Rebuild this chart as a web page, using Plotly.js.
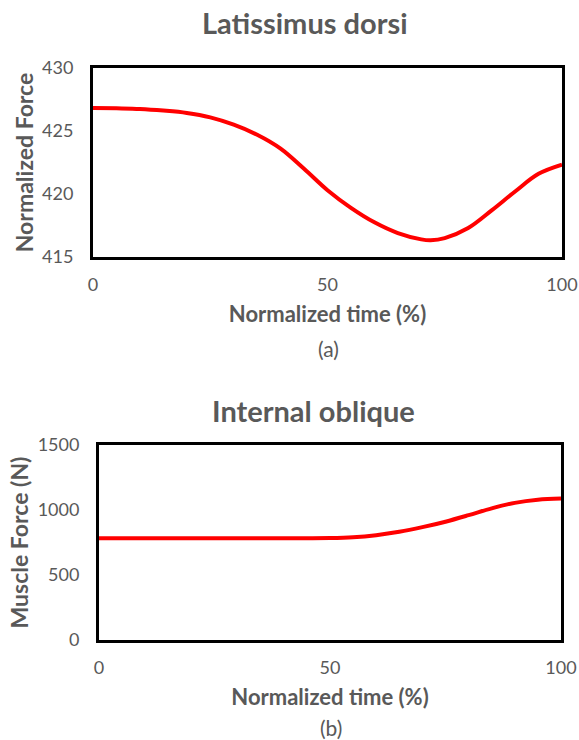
<!DOCTYPE html>
<html><head><meta charset="utf-8">
<script src="https://cdn.plot.ly/plotly-3.0.1.min.js"></script>
<style>html,body{margin:0;padding:0;background:#fff;}</style>
</head><body>
<div id="chart" style="width:579px;height:740px;"></div>
<script>
const timeA = [0, 5, 10, 15, 20, 25, 30, 35, 40, 45, 50, 55, 60, 65, 70, 72, 75, 80, 85, 90, 95, 100];
const latDorsi = [426.83, 426.8, 426.75, 426.62, 426.43, 426.08, 425.5, 424.7, 423.6, 422.0, 420.3, 418.9, 417.75, 416.9, 416.4, 416.33, 416.5, 417.3, 418.7, 420.2, 421.6, 422.33];
const timeB = [0, 10, 20, 30, 40, 50, 55, 60, 65, 70, 75, 80, 85, 90, 95, 100];
const intOblique = [783, 783, 783, 783, 783, 784, 790, 806, 832, 868, 910, 960, 1013, 1055, 1079, 1088];
const xTicks = [0, 50, 100];
const yTicksA = [415, 420, 425, 430];
const yTicksB = [0, 500, 1000, 1500];

const gray = '#595959';
const font = 'Lato, "Open Sans", sans-serif';

const traces = [
  {x: timeA, y: latDorsi, xaxis: 'x', yaxis: 'y', mode: 'lines', line: {color: '#ff0000', width: 4, shape: 'spline', smoothing: 1}, hoverinfo: 'skip'},
  {x: timeB, y: intOblique, xaxis: 'x2', yaxis: 'y2', mode: 'lines', line: {color: '#ff0000', width: 4, shape: 'spline', smoothing: 1}, hoverinfo: 'skip'}
];

function xax(domain, anchor) {
  return {domain: domain, anchor: anchor, range: [0, 100], tickvals: xTicks, showgrid: false, zeroline: false,
    showline: true, mirror: true, linecolor: '#000', linewidth: 3,
    ticks: 'outside', ticklen: 9, tickcolor: 'rgba(0,0,0,0)', ticklabeloverflow: 'allow',
    tickfont: {family: font, size: 18, color: gray},
    title: {text: '<b>Normalized time (%)</b>', font: {family: font, size: 22, color: gray}, standoff: 14}};
}
function yax(domain, anchor, range, ticks, title) {
  return {domain: domain, anchor: anchor, range: range, tickvals: ticks, showgrid: false, zeroline: false,
    showline: true, mirror: true, linecolor: '#000', linewidth: 3,
    ticks: 'outside', ticklen: 13, tickcolor: 'rgba(0,0,0,0)',
    tickfont: {family: font, size: 18, color: gray},
    title: {text: '<b>' + title + '</b>', font: {family: font, size: 23, color: gray}, standoff: 3}};
}

const layout = {
  width: 579, height: 740, margin: {l: 0, r: 0, t: 0, b: 0},
  paper_bgcolor: '#fff', plot_bgcolor: '#fff', showlegend: false,
  xaxis: xax([93/579, 562/579], 'y'),
  yaxis: yax([1 - 257/740, 1 - 68/740], 'x', [415, 430], yTicksA, 'Normalized Force'),
  xaxis2: xax([99/579, 561/579], 'y2'),
  yaxis2: yax([1 - 640/740, 1 - 445/740], 'x2', [0, 1500], yTicksB, 'Muscle Force (N)'),
  annotations: [
    {text: '<b>Latissimus dorsi</b>', xref: 'paper', yref: 'paper', x: 305/579, y: 1 - 22/740, showarrow: false, xanchor: 'center', yanchor: 'middle', font: {family: font, size: 29, color: gray}},
    {text: '<b>Internal oblique</b>', xref: 'paper', yref: 'paper', x: 313/579, y: 1 - 410/740, showarrow: false, xanchor: 'center', yanchor: 'middle', font: {family: font, size: 29, color: gray}},
    {text: '(a)', xref: 'paper', yref: 'paper', x: 328/579, y: 1 - 348/740, showarrow: false, xanchor: 'center', yanchor: 'middle', font: {family: font, size: 21, color: gray}},
    {text: '(b)', xref: 'paper', yref: 'paper', x: 331/579, y: 1 - 727/740, showarrow: false, xanchor: 'center', yanchor: 'middle', font: {family: font, size: 21, color: gray}}
  ]
};

Plotly.newPlot('chart', traces, layout, {staticPlot: true, displayModeBar: false});
</script>
</body></html>
